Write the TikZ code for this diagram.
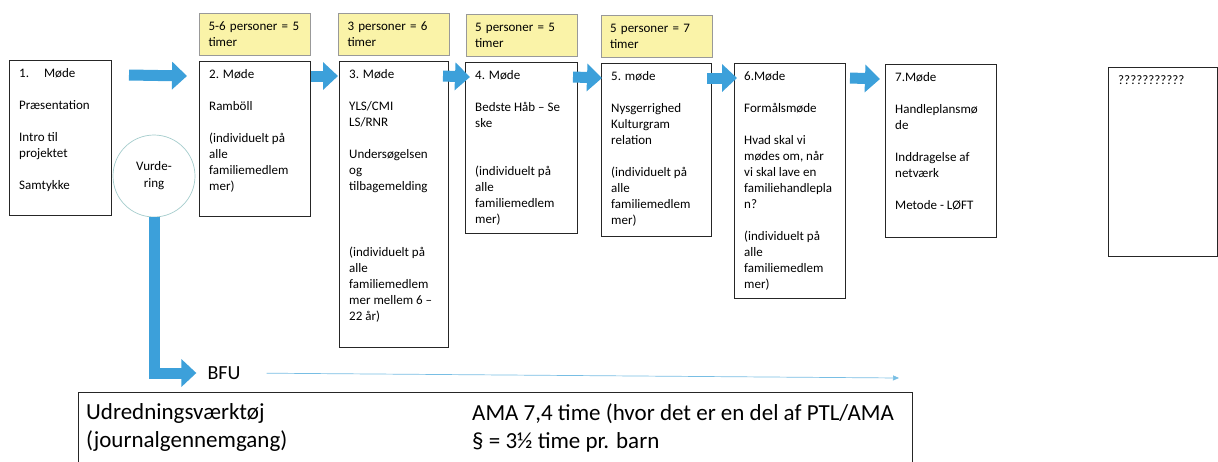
\documentclass[tikz,border=0pt]{standalone}
\usepackage{fontspec}
\setmainfont{Carlito}
\usepackage{tikz}
\usetikzlibrary{positioning,%
  arrows.meta,%
  shapes.geometric
}

\definecolor{flowblue}{RGB}{60,160,218}
\definecolor{tagyellow}{RGB}{250,243,168}
\definecolor{ringline}{RGB}{165,205,205}
\definecolor{lineblue}{RGB}{120,190,228}

\begin{document}
\begin{tikzpicture}
                    [
                        x=1pt, y=-1pt,
                        meet/.style 2 args={draw=black!85, line width=1pt, anchor=north west, minimum width=#1pt, minimum height=#2pt, inner sep=0pt},
                        meettext/.style={anchor=north west, align=left, font=\fontsize{13pt}{16pt}\selectfont, inner xsep=10pt, inner ysep=8pt},
                        tag/.style={draw=black!40, line width=0.8pt, fill=tagyellow, text width=93pt, inner xsep=9pt, minimum height=42pt, align=left, font=\fontsize{13pt}{16pt}\selectfont},
                        flow/.style={draw=flowblue, line width=11pt, -{Triangle[length=15pt, width=27pt]}},
                        thinflow/.style={draw=lineblue, line width=0.7pt, -{Triangle[length=6pt, width=5pt]}},
                        bigtext/.style={anchor=north west, align=left, inner sep=0pt, font=\fontsize{23pt}{28pt}\selectfont}
                    ]

                    % Hintergrund
                    \path[fill=white, use as bounding box] (0,0) rectangle (1218,461);

                    % Moeder
                    \node[meet={102}{155}] (m1) at (9,60) {};
                    \node[meet={111}{155}] (m2) at (199,61) {};
                    \node[meet={109}{286}] (m3) at (339,61) {};
                    \node[meet={112}{171}] (m4) at (465,62) {};
                    \node[meet={110}{173}] (m5) at (601,63) {};
                    \node[meet={111}{235}] (m6) at (734,63) {};
                    \node[meet={111}{173}] (m7) at (885,64) {};
                    \node[meet={109}{189}] (m8) at (1108,67) {};

                    \node[meettext] (t1) at (m1.north west) {1.\hspace{15pt}Møde\\[16pt] Præsentation\\[16pt] Intro til\\ projektet\\[16pt] Samtykke};
                    \node[meettext] (t2) at (m2.north west) {2. Møde\\[16pt] Ramböll\\[16pt] (individuelt på\\ alle\\ familiemedlem\\ mer)};
                    \node[meettext] (t3) at (m3.north west) {3. Møde\\[16pt] YLS/CMI\\ LS/RNR\\[16pt] Undersøgelsen\\ og\\ tilbagemelding\\[50pt] (individuelt på\\ alle\\ familiemedlem\\ mer mellem 6 –\\ 22 år)};
                    \node[meettext] (t4) at (m4.north west) {4. Møde\\[16pt] Bedste Håb – Se\\ ske\\[32pt] (individuelt på\\ alle\\ familiemedlem\\ mer)};
                    \node[meettext] (t5) at (m5.north west) {5. møde\\[16pt] Nysgerrighed\\ Kulturgram\\ relation\\[16pt] (individuelt på\\ alle\\ familiemedlem\\ mer)};
                    \node[meettext] (t6) at (m6.north west) {6.Møde\\[16pt] Formålsmøde\\[16pt] Hvad skal vi\\ mødes om, når\\ vi skal lave en\\ familiehandlepla\\ n?\\[16pt] (individuelt på\\ alle\\ familiemedlem\\ mer)};
                    \node[meettext] (t7) at (m7.north west) {7.Møde\\[16pt] Handleplansmø\\ de\\[16pt] Inddragelse af\\ netværk\\[16pt] Metode - LØFT};
                    \node[meettext] (t8) at (m8.north west) {???????????};

                    % Timer
                    \node[tag, above=5pt of m2] (c2) {5-6 personer = 5\\ timer};
                    \node[tag, above=5pt of m3] (c3) {3 personer = 6\\ timer};
                    \node[tag, above=5pt of m4] (c4) {5 personer = 5\\ timer};
                    \node[tag, above=5pt of m5] (c5) {5 personer = 7\\ timer};

                    % Pile
                    \draw[flow] ([shift={(17,15)}]m1.north east) -- ([shift={(-12,15)}]m2.north west);
                    \draw[flow] ([shift={(0,15)}]m2.north east) -- ([shift={(-1,15)}]m3.north west);
                    \draw[flow] ([shift={(-6,15)}]m3.north east) -- ([shift={(5,15)}]m4.north west);
                    \draw[flow] ([shift={(-5,15)}]m4.north east) -- ([shift={(1,15)}]m5.north west);
                    \draw[flow] ([shift={(-5,15)}]m5.north east) -- ([shift={(3,15)}]m6.north west);
                    \draw[flow] ([shift={(4,15)}]m6.north east) -- ([shift={(-5,15)}]m7.north west);

                    % Vurdering
                    \node[circle, draw=ringline, line width=0.7pt, minimum size=82pt, align=center, font=\fontsize{13pt}{17pt}\selectfont] (vurd) at (154,176) {Vurde-\\ ring};
                    \node[font=\fontsize{20pt}{24pt}\selectfont, inner sep=2pt] (bfu) at (224,373) {BFU};
                    \draw[flow, line join=miter, shorten >=9pt] (vurd.south) |- (bfu.west);
                    \coordinate (bfuend) at (899,378);
                    \draw[thinflow, shorten <=24pt] (bfu.east) -- (bfuend);

                    % Udredning
                    \node[meet={834}{75}, line width=0.8pt] (tool) at (78,392) {};
                    \node[bigtext] (udr) at ([shift={(8,11)}]tool.north west) {Udredningsværktøj\\ (journalgennemgang)};
                    \node[bigtext] (ama) at ([shift={(394,11)}]tool.north west) {AMA 7,4 time (hvor det er en del af PTL/AMA\\ § = 3½ time pr. barn};
                \end{tikzpicture}
\end{document}
